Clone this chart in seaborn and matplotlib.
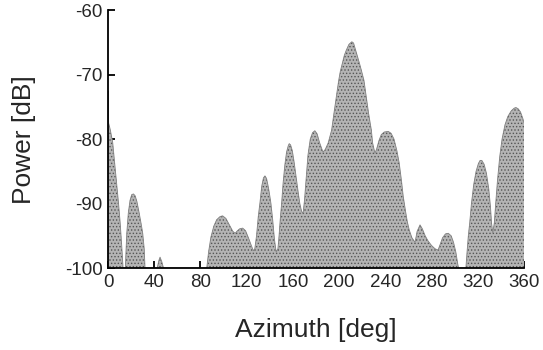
import numpy as np
import pandas as pd
import matplotlib
matplotlib.use('Agg')
import matplotlib.pyplot as plt
import seaborn as sns

# values (azimuth in deg, power in dB), lobe by lobe
azimuth = [0, 0, 0.5, 2, 4, 6, 7.5, 9, 10.5, 12, 13,
           15, 15.5, 16.2, 17.5, 19, 20.5, 22, 23.5, 25, 27, 29, 30, 31.3, 32,
           42.5, 44, 45, 46.5, 48,
           85.4, 87, 89, 91.5, 94, 97, 99.2, 102, 105, 108, 110, 112, 114, 116.5,
           119, 121.5, 124, 125.7,
           127, 128.5, 130, 131.5, 133, 134.5, 135.8, 137.2, 138.8, 140, 141,
           142.5, 144, 145.5, 147,
           148, 149, 150.2, 151.5, 153, 154.5, 156, 156.8, 158, 159.5, 161, 163,
           165, 166, 167.5, 168.8,
           170, 171.5, 173, 175, 177, 179, 181, 183, 186,
           188, 190.5, 193.5, 195.5, 197.6, 199.6, 201, 202.7, 204.5, 206.2, 208.5,
           211, 212.5, 214.3, 216, 217.7, 219.5, 221.5, 223.5, 225.5, 227.9, 229, 231,
           232.5, 234.5, 236.5, 239, 242.5, 245, 247.5, 250, 252, 254, 255.5,
           257.5, 259, 260.7, 263, 265.7,
           267.5, 270, 272, 274.5, 277, 280, 283, 285.6,
           287.5, 289.5, 292, 294.5, 297, 299, 301, 302.8, 303.5,
           309.7, 310.5, 311.8, 313, 314.5, 316.5, 318.5, 320.5, 322, 323.5,
           325.5, 327.5, 329.5, 331, 331.9, 333,
           334.3, 335.5, 337, 339, 341, 343.5, 346, 349, 351.5, 353, 355, 357,
           359, 360]
power = [-100, -72.5, -77.5, -78.6, -80.5, -84.3, -87, -89.8, -93, -97, -100,
         -100, -97.5, -94.6, -91.5, -89.5, -88.6, -88.5, -88.8, -89.7, -91.5, -93.5, -94.6, -97, -100,
         -100, -98.8, -98.3, -99, -100,
         -100, -97.5, -95.2, -93.5, -92.5, -92, -91.9, -92.3, -93.3, -94.3, -94.6, -94.2, -93.9, -93.8,
         -94.2, -95.3, -96.5, -97.3,
         -97, -95, -92, -89.8, -87.3, -86, -85.7, -86.1, -87.5, -88.8, -90,
         -92.5, -95.5, -97.5, -97,
         -95, -92.5, -90, -86.8, -84, -82, -81, -80.7, -80.9, -81.8, -83.5, -86.2,
         -88.8, -90, -91.2, -91.5,
         -89.5, -86, -82.5, -80, -79, -78.7, -79.2, -80.5, -82,
         -81.6, -80.6, -78.6, -76, -73.4, -70.9, -69.5, -68.3, -67, -66.2, -65.3,
         -64.9, -65.1, -66.2, -67.2, -68.3, -69.5, -70.9, -73.4, -76, -78.6, -80.6, -82.2,
         -81.5, -80.2, -79.3, -78.9, -78.8, -79.1, -80, -81.8, -83.7, -86.5, -88.9,
         -91.2, -92.8, -94.1, -95.3, -96,
         -94.3, -93.3, -93.9, -95, -95.8, -96.5, -97, -97.2,
         -96.3, -95.3, -94.7, -94.6, -95, -96, -97.5, -99.5, -100,
         -100, -98, -95, -93, -90, -87, -85, -83.8, -83.3, -83.3,
         -83.9, -85.3, -87.7, -90.5, -93, -94.5,
         -93, -90, -86.5, -82.7, -80, -77.8, -76.5, -75.6, -75.2, -75.1, -75.3, -75.8,
         -76.8, -77.5]

xticks = [0, 40, 80, 120, 160, 200, 240, 280, 320, 360]
yticks = [-100, -90, -80, -70, -60]

df = pd.DataFrame({'azimuth': azimuth, 'power': power})

sns.set_style('ticks')
plt.rcParams['font.family'] = ['Liberation Sans', 'DejaVu Sans']
plt.rcParams['hatch.linewidth'] = 0.6

fig = plt.figure(figsize=(5.43, 3.5), dpi=100)
ax = fig.add_axes([0.199, 0.234, 0.766, 0.737])

# stippled fill down to the floor of the plot
ax.fill_between(df['azimuth'], df['power'], -100, facecolor='#b4b4b4',
                edgecolor='#555555', hatch='.....', linewidth=0)
sns.lineplot(data=df, x='azimuth', y='power', ax=ax, color='#808080',
             linewidth=0.6, sort=False, estimator=None)

ax.set_xlim(0, 360)
ax.set_ylim(-100, -60)
ax.set_xticks(xticks)
ax.set_yticks(yticks)
ax.set_xticklabels([str(t) for t in xticks], fontsize=13.5)
ax.set_yticklabels([str(t) for t in yticks], fontsize=13.5)
ax.tick_params(direction='in', length=5, width=1.3, color='black', pad=4)
ax.set_xlabel('Azimuth [deg]', fontsize=19, labelpad=20)
ax.set_ylabel('Power [dB]', fontsize=19, labelpad=21)

sns.despine(ax=ax)
for s in ['left', 'bottom']:
    ax.spines[s].set_linewidth(1.3)
    ax.spines[s].set_color('black')

fig.savefig('out.png', dpi=100)
